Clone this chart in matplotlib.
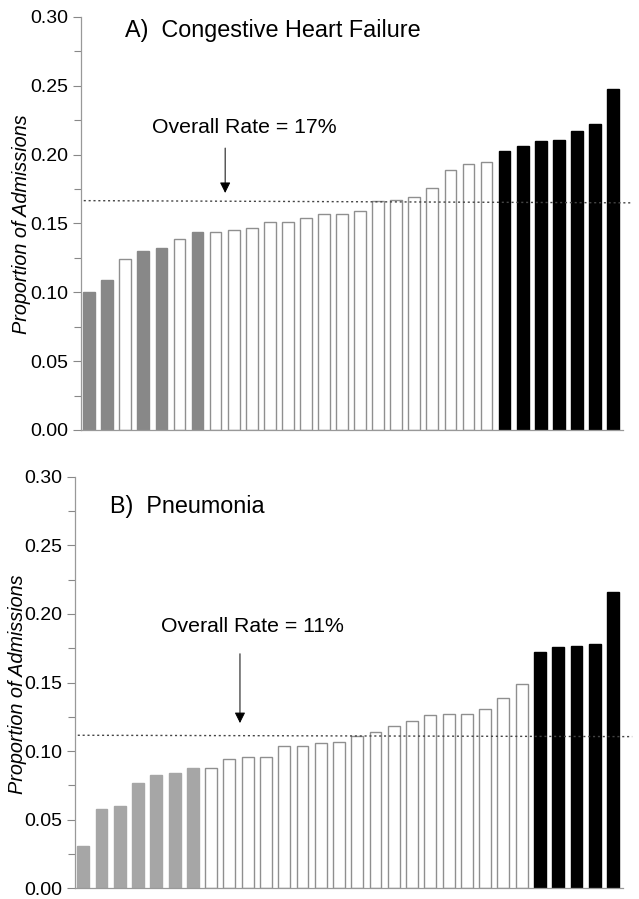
import matplotlib
matplotlib.use("Agg")
import matplotlib.pyplot as plt
import numpy as np
from matplotlib.ticker import MultipleLocator

plt.rcParams["font.family"] = ["Liberation Sans", "DejaVu Sans"]

# proportion of admissions per hospital, sorted ascending
chf_rates = [0.100, 0.109, 0.124, 0.130, 0.132, 0.139, 0.144, 0.144, 0.145, 0.147,
             0.151, 0.151, 0.154, 0.157, 0.157, 0.159, 0.166, 0.167, 0.169, 0.176,
             0.189, 0.193, 0.195, 0.203, 0.206, 0.210, 0.211, 0.217, 0.222, 0.248]
# g = gray (below), w = white (not different), b = black (above)
chf_groups = list("ggwggwg") + ["w"] * 16 + ["b"] * 7
chf_overall = (0.1666, 0.1650)

pna_rates = [0.031, 0.058, 0.060, 0.077, 0.083, 0.084, 0.088, 0.088, 0.094, 0.096,
             0.096, 0.104, 0.104, 0.106, 0.107, 0.111, 0.114, 0.118, 0.122, 0.126,
             0.127, 0.127, 0.131, 0.139, 0.149, 0.172, 0.176, 0.177, 0.178, 0.216]
pna_groups = ["g"] * 7 + ["w"] * 18 + ["b"] * 5
pna_overall = (0.1116, 0.1106)

GREYS = {"A": "#888888", "B": "#a6a6a6"}


def draw_panel(ax, rates, groups, overall, title, title_xy, rate_text, gray,
               text_xy, arrow_x, arrow_y):
    x = np.arange(len(rates))
    face = [gray if g == "g" else ("black" if g == "b" else "white") for g in groups]
    edge = [gray if g == "g" else ("black" if g == "b" else "#8f8f8f") for g in groups]
    ax.bar(x, rates, width=0.65, color=face, edgecolor=edge, linewidth=1.0, zorder=2)

    ax.plot([-0.3, 30.05], list(overall), ls=(0, (1.5, 2.0)), color="#444444",
            lw=1.0, clip_on=False, zorder=3)

    ax.set_xlim(-0.45, 29.55)
    ax.set_ylim(0, 0.30)
    ax.yaxis.set_major_locator(MultipleLocator(0.05))
    ax.yaxis.set_minor_locator(MultipleLocator(0.025))
    ax.yaxis.set_major_formatter(matplotlib.ticker.FormatStrFormatter("%.2f"))
    ax.tick_params(axis="y", which="major", length=6, width=0.8, color="#888888",
                   labelsize=14, pad=3)
    ax.tick_params(axis="y", which="minor", length=5, width=0.8, color="#888888")
    ax.set_xticks([])
    for s in ("top", "right"):
        ax.spines[s].set_visible(False)
    for s in ("left", "bottom"):
        ax.spines[s].set_color("#999999")
        ax.spines[s].set_linewidth(0.9)

    ax.set_ylabel("Proportion of Admissions", style="italic", fontsize=14.3)
    ax.text(title_xy[0], title_xy[1], title, transform=ax.transAxes, fontsize=16.8,
            ha="left", va="center")
    ax.text(text_xy[0], text_xy[1], rate_text, fontsize=15.3, ha="left", va="center")
    ax.annotate("", xy=(arrow_x, arrow_y[1]), xytext=(arrow_x, arrow_y[0]),
                arrowprops=dict(arrowstyle="-|>", color="black", lw=0.7,
                                mutation_scale=16, shrinkA=0, shrinkB=0))


fig = plt.figure(figsize=(6.39, 8.99), dpi=100)
ax_a = fig.add_axes([0.1268, 0.5217, 0.848, 0.4594])
ax_b = fig.add_axes([0.1174, 0.0118, 0.8576, 0.4579])

draw_panel(ax_a, chf_rates, chf_groups, chf_overall,
           "A)  Congestive Heart Failure", (0.081, 0.9685),
           "Overall Rate = 17%", GREYS["A"],
           (3.5, 0.2195), 7.53, (0.2048, 0.1722))
draw_panel(ax_b, pna_rates, pna_groups, pna_overall,
           "B)  Pneumonia", (0.064, 0.927),
           "Overall Rate = 11%", GREYS["B"],
           (4.25, 0.191), 8.58, (0.171, 0.1205))

ax_a.yaxis.set_label_coords(-0.092, 0.499)
ax_b.yaxis.set_label_coords(-0.088, 0.496)

fig.savefig("out.png", dpi=100)
